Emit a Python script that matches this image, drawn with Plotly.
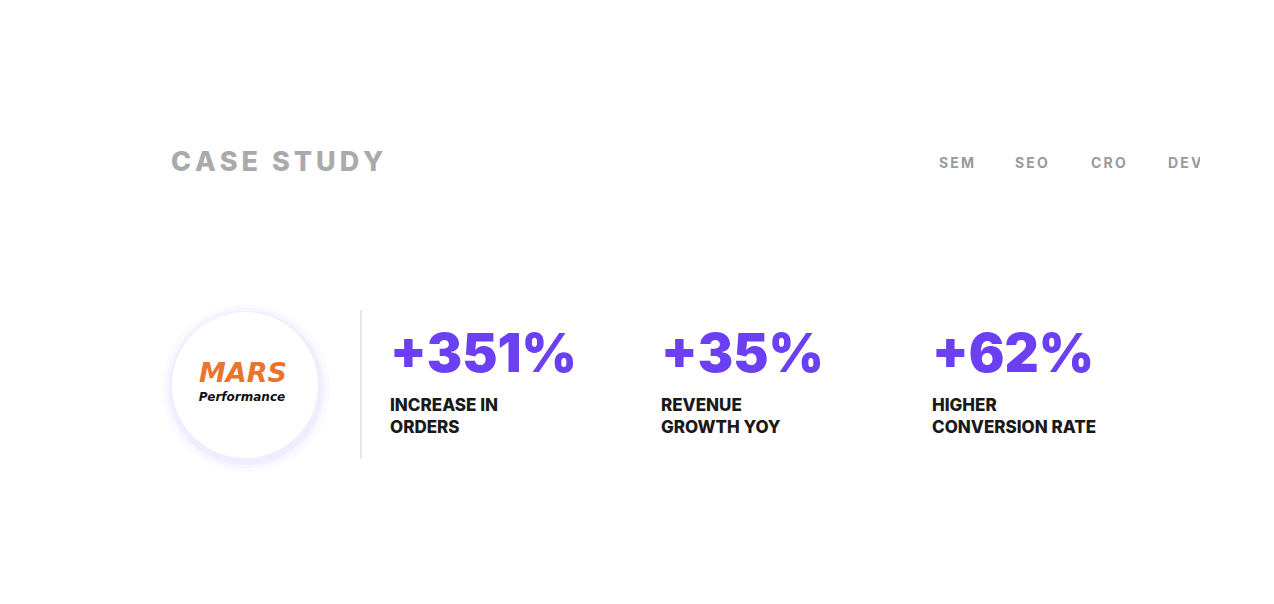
import plotly.graph_objects as go

# data
metric_values = ["+351%", "+35%", "+62%"]
metric_labels = ["INCREASE IN<br>ORDERS", "REVENUE<br>GROWTH YOY", "HIGHER<br>CONVERSION RATE"]
metric_x = [390, 661, 932]
nav_items = ["SEM", "SEO", "CRO", "DEV"]
nav_x = [939, 1015, 1091, 1168]
title_text = "CASE STUDY"

W, H = 1274, 604
FONT = "Inter, Lato, Open Sans, sans-serif"
HS = "\u200a"

def spaced(s, n=2):
    return (HS * n).join(list(s))

fig = go.Figure()

# logo circle with soft shadow
for r, a in [(84, 0.035), (80, 0.045), (77, 0.055)]:
    fig.add_shape(type="circle", x0=246 - r, x1=246 + r, y0=386 - r, y1=386 + r,
                  fillcolor=f"rgba(140,120,255,{a})", line_width=0, layer="below")
fig.add_shape(type="circle", x0=172, x1=318, y0=310, y1=456,
              fillcolor="white", line_width=0, layer="below")
# divider
fig.add_shape(type="line", x0=361, x1=361, y0=308, y1=457,
              line=dict(color="#e6e6e6", width=2))

fig.add_trace(go.Scatter(x=[243], y=[373], mode="text", text=["<i>MARS</i>"],
                         textfont=dict(family="DejaVu Sans", size=27, color="#e8742e", weight=700)))
fig.add_trace(go.Scatter(x=[242], y=[396], mode="text", text=["<i>Performance</i>"],
                         textfont=dict(family="DejaVu Sans", size=12, color="#111", weight=900)))

# title and nav
fig.add_trace(go.Scatter(x=[171], y=[162], mode="text", text=[spaced(title_text, 2)],
                         textposition="middle right",
                         textfont=dict(family=FONT, size=27, color="#aaaaaa", weight=800)))
fig.add_trace(go.Scatter(x=nav_x, y=[162] * len(nav_x), mode="text",
                         text=[spaced(s, 2) for s in nav_items], textposition="middle right",
                         textfont=dict(family=FONT, size=14, color="#9a9a9a", weight=700)))
# clip nav at right edge
fig.add_shape(type="rect", x0=1200, x1=W + 20, y0=140, y1=185, fillcolor="white",
              line_width=0, layer="above")

# metrics
fig.add_trace(go.Scatter(x=metric_x, y=[357] * 3, mode="text", text=metric_values,
                         textposition="middle right",
                         textfont=dict(family=FONT, size=53, color="#6b3ff2", weight=900)))
fig.add_trace(go.Scatter(x=metric_x, y=[416] * 3, mode="text", text=metric_labels,
                         textposition="middle right",
                         textfont=dict(family=FONT, size=17, color="#1a1a1a", weight=800)))

fig.update_xaxes(range=[8, W + 8], visible=False, fixedrange=True)
fig.update_yaxes(range=[H + 6, 6], visible=False, fixedrange=True)
fig.update_layout(width=W, height=H, margin=dict(l=0, r=0, t=0, b=0),
                  plot_bgcolor="white", paper_bgcolor="white", showlegend=False)

fig.write_html("out.html")
